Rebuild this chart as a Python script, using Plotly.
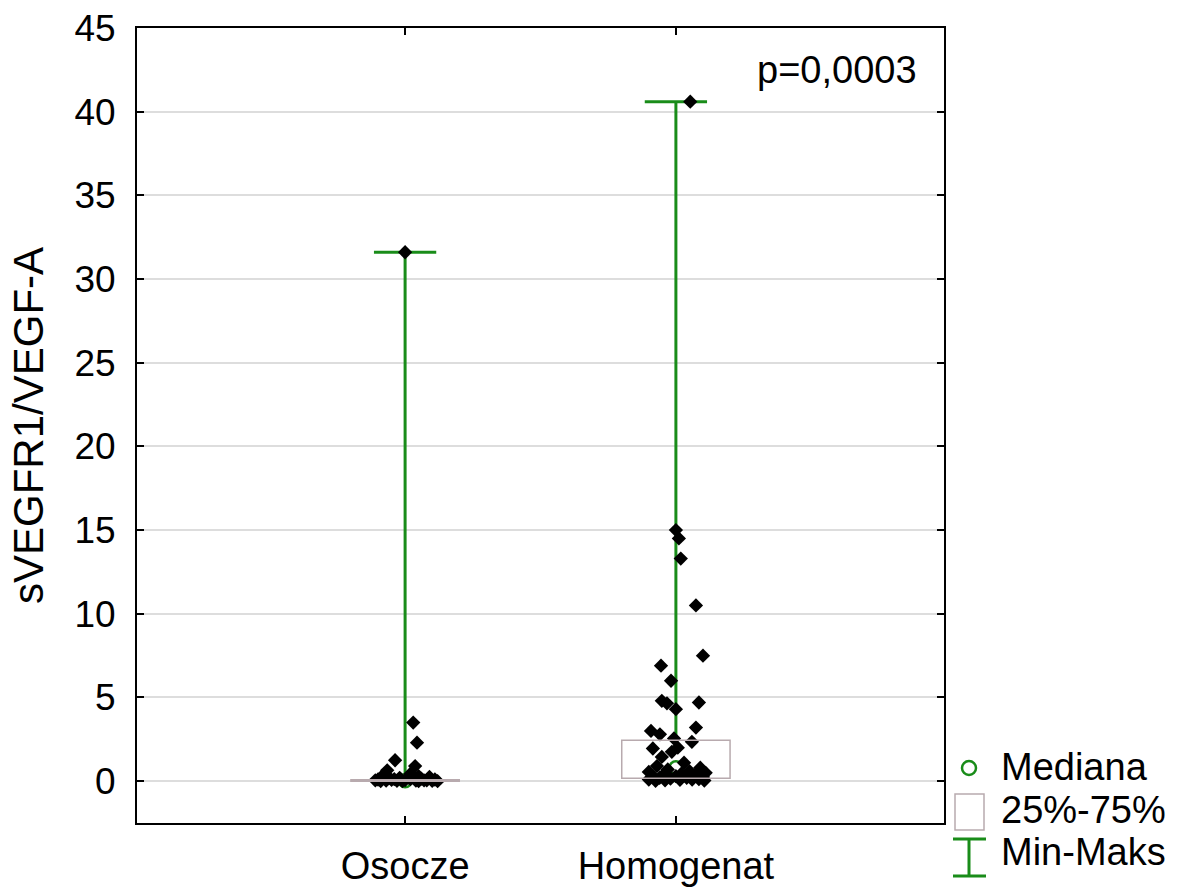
import plotly.graph_objects as go

# Groups and summary statistics
categories = ["Osocze", "Homogenat"]
medians = [0.02, 0.8]
q1 = [0.0, 0.18]
q3 = [0.08, 2.45]
mins = [0.0, 0.02]
maxs = [31.6, 40.6]

# Individual observations with horizontal jitter (in category units)
osocze_values = [31.6, 3.5, 2.3, 1.25, 0.9, 0.65, 0.45, 0.35, 0.3, 0.25, 0.2, 0.18,
                 0.15, 0.12, 0.1, 0.1, 0.08, 0.06, 0.05, 0.05, 0.04, 0.03, 0.02,
                 0.02, 0.01, 0.01, 0.0, 0.0, 0.05, 0.12, 0.3, 0.2]
osocze_jitter = [0.0, 0.03, 0.044, -0.037, 0.037, -0.066, 0.02, -0.08, 0.05, 0.09,
                 -0.02, -0.06, 0.06, 0.02, -0.1, 0.11, -0.05, 0.0, 0.07, -0.11,
                 -0.07, 0.04, -0.03, 0.1, -0.09, 0.05, -0.01, 0.12, 0.08, -0.04,
                 -0.085, 0.015]

homogenat_values = [40.6, 15.0, 14.5, 13.3, 10.5, 7.5, 6.9, 6.0, 4.8, 4.65, 4.3,
                    4.7, 3.0, 2.8, 3.2, 2.35, 2.55, 1.95, 2.0, 1.75, 1.45, 1.1,
                    0.9, 0.8, 0.7, 0.6, 0.55, 0.5, 0.45, 0.4, 0.35, 0.3, 0.3,
                    0.25, 0.2, 0.2, 0.15, 0.12, 0.1, 0.1, 0.08, 0.05, 0.04, 0.02]
homogenat_jitter = [0.053, 0.0, 0.011, 0.018, 0.074, 0.1, -0.055, -0.018, -0.052,
                    -0.033, 0.0, 0.085, -0.092, -0.059, 0.074, 0.059, -0.007, -0.085,
                    0.007, -0.015, -0.052, 0.03, -0.07, 0.09, -0.03, 0.05, -0.1,
                    0.11, 0.02, -0.045, 0.07, -0.085, 0.0, 0.1, -0.06, 0.04, -0.02,
                    0.085, -0.1, 0.06, 0.015, -0.04, 0.105, -0.075]

y_ticks = [0, 5, 10, 15, 20, 25, 30, 35, 40, 45]
y_title = "sVEGFR1/VEGF-A"
p_text = "p=0,0003"

GREEN = "#198c19"
BOX = "#b8aaae"
FONT = "Liberation Sans, Arial, sans-serif"
BOX_HALF = 0.2
CAP_HALF = 0.115

fig = go.Figure()

# Interquartile boxes
for i in range(len(categories)):
    fig.add_shape(type="rect", xref="x", yref="y",
                  x0=i - BOX_HALF, x1=i + BOX_HALF, y0=q1[i], y1=q3[i],
                  line=dict(color=BOX, width=1.5), fillcolor="rgba(0,0,0,0)",
                  layer="above")

# Whiskers (box edge to extreme) with caps
wx, wy = [], []
for i in range(len(categories)):
    wx += [i, i, None, i, i, None,
           i - CAP_HALF, i + CAP_HALF, None, i - CAP_HALF, i + CAP_HALF, None]
    wy += [q3[i], maxs[i], None, q1[i], mins[i], None,
           maxs[i], maxs[i], None, mins[i], mins[i], None]
fig.add_trace(go.Scatter(x=wx, y=wy, mode="lines",
                         line=dict(color=GREEN, width=3),
                         hoverinfo="skip", showlegend=False))

# Medians
fig.add_trace(go.Scatter(x=list(range(len(categories))), y=medians, mode="markers",
                         marker=dict(symbol="circle-open", size=13, color=GREEN,
                                     line=dict(width=2.5, color=GREEN)),
                         showlegend=False))

# Raw data points
fig.add_trace(go.Scatter(x=[0 + j for j in osocze_jitter], y=osocze_values,
                         mode="markers",
                         marker=dict(symbol="diamond", size=11, color="black"),
                         showlegend=False))
fig.add_trace(go.Scatter(x=[1 + j for j in homogenat_jitter], y=homogenat_values,
                         mode="markers",
                         marker=dict(symbol="diamond", size=11, color="black"),
                         showlegend=False))

# Plot area geometry in page pixels, used to place the side legend
L, R, T, B = 137, 944, 28, 823
W, H = 1187, 890


def px(x):
    return (x - L) / (R - L)


def py(y):
    return (B - y) / (B - T)


# Side legend: symbols
fig.add_shape(type="circle", xref="paper", yref="paper",
              x0=px(962), x1=px(976), y0=py(775), y1=py(761),
              line=dict(color=GREEN, width=2.5))
fig.add_shape(type="rect", xref="paper", yref="paper",
              x0=px(955), x1=px(984), y0=py(830), y1=py(794),
              line=dict(color=BOX, width=1.5))
fig.add_shape(type="line", xref="paper", yref="paper",
              x0=px(969), x1=px(969), y0=py(876), y1=py(839),
              line=dict(color=GREEN, width=3))
for cy in (839, 876):
    fig.add_shape(type="line", xref="paper", yref="paper",
                  x0=px(953), x1=px(986), y0=py(cy), y1=py(cy),
                  line=dict(color=GREEN, width=3))

legend_labels = ["Mediana", "25%-75%", "Min-Maks"]
legend_y = [767, 810, 852]
for lab, ly in zip(legend_labels, legend_y):
    fig.add_annotation(xref="paper", yref="paper", x=px(999), y=py(ly),
                       text=lab, showarrow=False, xanchor="left", yanchor="middle",
                       font=dict(size=38, color="black", family=FONT))

fig.add_annotation(xref="paper", yref="paper", x=px(919), y=py(70),
                   text=p_text, showarrow=False, xanchor="right", yanchor="middle",
                   font=dict(size=38, color="black", family=FONT))

fig.update_layout(
    width=W, height=H,
    margin=dict(l=L, r=W - R, t=T, b=H - B, autoexpand=False),
    plot_bgcolor="white", paper_bgcolor="white",
    font=dict(family=FONT, size=37, color="black"),
    showlegend=False,
    xaxis=dict(range=[-0.99, 1.99], tickvals=list(range(len(categories))),
               ticktext=categories, ticks="inside", ticklen=7, tickwidth=2,
               tickcolor="black", showline=True, linecolor="black", linewidth=2,
               mirror="ticks", showgrid=False, zeroline=False, automargin=False,
               tickfont=dict(size=38), ticklabelstandoff=8),
    yaxis=dict(range=[-2.5, 45], tickvals=y_ticks, ticks="inside", ticklen=7,
               tickwidth=2, tickcolor="black", showline=True, linecolor="black",
               linewidth=2, mirror="ticks", showgrid=True, gridcolor="#dddddd",
               gridwidth=1.5, zeroline=False, automargin=False,
               tickfont=dict(size=37), ticklabelstandoff=12,
               title=dict(text=y_title, font=dict(size=42), standoff=18)),
)

fig.write_html("out.html")
